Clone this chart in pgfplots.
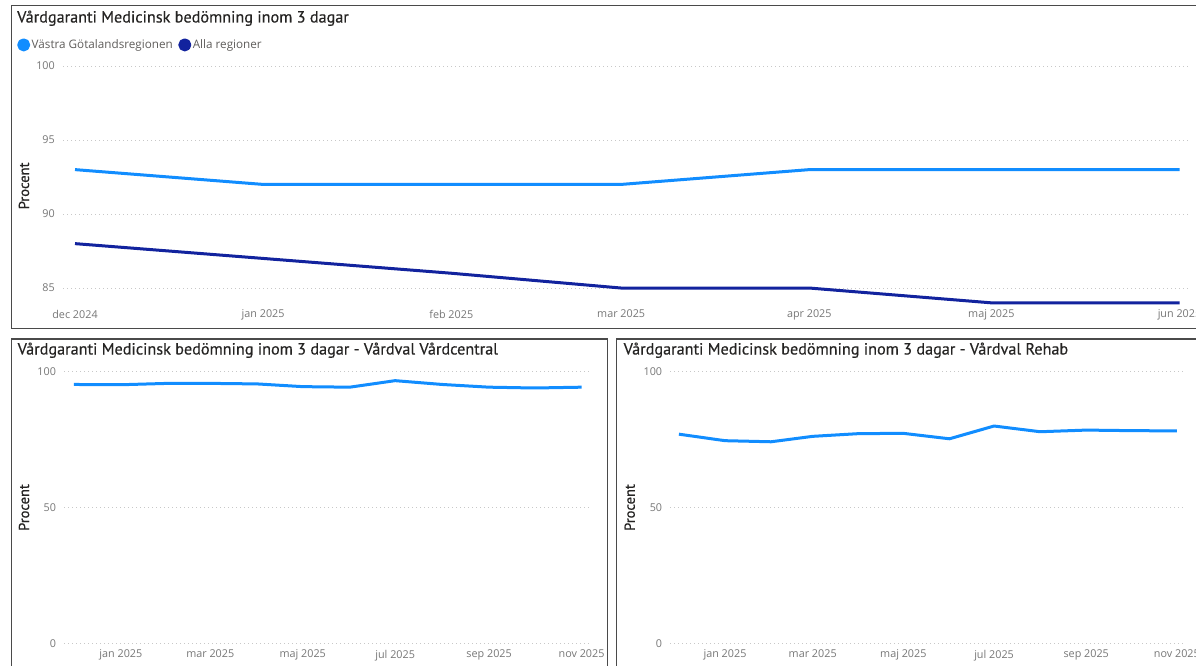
\documentclass[border=0pt]{standalone}
\usepackage{fontspec}
\setmainfont{Open Sans}
\newfontface\titlefont[FakeBold=0.35]{PT Sans}
\newfontface\labelfont[FakeBold=0.6]{PT Sans}
\usepackage{pgfplots}
\usepackage{pgfplotstable}
\pgfplotsset{compat=1.18}

\definecolor{vgr}{HTML}{118DFF}
\definecolor{alla}{HTML}{12239E}
\definecolor{tickgray}{HTML}{777777}
\definecolor{legendgray}{HTML}{605E5C}
\definecolor{gridgray}{HTML}{C8C8C8}
\definecolor{titlecol}{HTML}{252423}
\definecolor{framecol}{HTML}{4A4A4A}

% monthly values, x = days since 1 dec 2024
\pgfplotstableread{
day vgr alla
0   93 88
31  92 87
62  92 86
90  92 85
121 93 85
151 93 84
182 93 84
}\toptable

\pgfplotstableread{
day vc   rehab
0   95.3 77.0
31  95.2 74.6
62  95.7 74.2
90  95.7 76.2
121 95.5 77.2
151 94.5 77.3
182 94.3 75.3
212 96.7 80.0
243 95.3 77.9
274 94.3 78.5
304 94.0 78.3
335 94.3 78.2
}\bottomtable

\pgfplotsset{
  pbi/.style={
    scale only axis,
    anchor=south west,
    axis line style={draw=none},
    major tick length=0pt,
    tick style={draw=none},
    ymajorgrids,
    grid style={gridgray, line width=0.8pt, dash pattern=on 1pt off 3pt},
    /pgf/number format/assume math mode=true,
    ticklabel style={font=\fontsize{10.8}{12}\selectfont, text=tickgray},
    yticklabel style={anchor=east, inner sep=0pt, xshift=-8pt},
    xticklabel style={anchor=north, inner sep=0pt, yshift=-6.5pt},
    ylabel=Procent,
    ylabel style={font=\labelfont\fontsize{14.5}{16}\selectfont, text=titlecol, anchor=center},
    every axis plot/.append style={line width=3pt, line join=round, mark=none},
  },
}

\newcommand{\ttl}{\titlefont\fontsize{16.2}{19}\selectfont}

\begin{document}
\begin{tikzpicture}
\useasboundingbox (0pt,0pt) rectangle (1196pt,665pt);
\clip (0pt,0pt) rectangle (1196pt,665pt);
\fill[white] (0pt,0pt) rectangle (1196pt,665pt);

% panel frames
\draw[framecol, line width=1.6pt] (11.5pt,336.5pt) rectangle (1220pt,659.5pt);
\draw[framecol, line width=1.6pt] (11.5pt,-20pt) rectangle (607.5pt,326pt);
\draw[framecol, line width=1.6pt] (616.5pt,-20pt) rectangle (1220pt,326pt);

% titles
\node[anchor=base west, inner sep=0pt, font=\ttl, text=titlecol] at (17pt,642.5pt)
  {Vårdgaranti Medicinsk bedömning inom 3 dagar};
\node[anchor=base west, inner sep=0pt, font=\ttl, text=titlecol] at (17.5pt,310.5pt)
  {Vårdgaranti Medicinsk bedömning inom 3 dagar - Vårdval Vårdcentral};
\node[anchor=base west, inner sep=0pt, font=\ttl, text=titlecol] at (623.5pt,310.5pt)
  {Vårdgaranti Medicinsk bedömning inom 3 dagar - Vårdval Rehab};

% top chart
\begin{axis}[pbi,
  at={(63pt,359.2pt)}, width=1125pt, height=239.8pt,
  xmin=-1.98, xmax=183.4, ymin=83.8, ymax=100,
  xtick={0,31,62,90,121,151,182},
  xticklabels={dec 2024,jan 2025,feb 2025,mar 2025,apr 2025,maj 2025,jun 2025},
  xticklabel style={yshift=2.5pt},
  ytick={85,90,95,100},
  ylabel style={at={(axis description cs:-0.0347,0.5)}},
  legend style={at={(axis description cs:-0.0409,1.088)}, anchor=west,
    draw=none, fill=none, inner sep=0pt, legend columns=2,
    font=\fontsize{11.7}{13}\selectfont, text=legendgray,
    nodes={inner xsep=1.5pt},
    /tikz/every even column/.append style={column sep=4pt}},
  legend image code/.code={\fill (5pt,0pt) circle (5pt);},
]
\addplot[color=vgr] table[x=day,y=vgr]{\toptable};
\addplot[color=alla] table[x=day,y=alla]{\toptable};
\legend{Västra Götalandsregionen,Alla regioner}
\end{axis}

% bottom left: Vårdcentral
\begin{axis}[pbi,
  at={(64.2pt,21.7pt)}, width=524.8pt, height=271.6pt,
  xmin=-6.4, xmax=339.9, ymin=0, ymax=100,
  xtick={31,90,151,212,274,335},
  xticklabels={jan 2025,mar 2025,maj 2025,jul 2025,sep 2025,nov 2025},
  ytick={0,50,100},
  ylabel style={at={(axis description cs:-0.0766,0.5)}},
]
\addplot[color=vgr] table[x=day,y=vc]{\bottomtable};
\end{axis}

% bottom right: Rehab
\begin{axis}[pbi,
  at={(670.3pt,21.7pt)}, width=515.2pt, height=271.6pt,
  xmin=-5.8, xmax=340.8, ymin=0, ymax=100,
  xtick={31,90,151,212,274,335},
  xticklabels={jan 2025,mar 2025,maj 2025,jul 2025,sep 2025,nov 2025},
  ytick={0,50,100},
  ylabel style={at={(axis description cs:-0.0788,0.5)}},
]
\addplot[color=vgr] table[x=day,y=rehab]{\bottomtable};
\end{axis}
\end{tikzpicture}
\end{document}
